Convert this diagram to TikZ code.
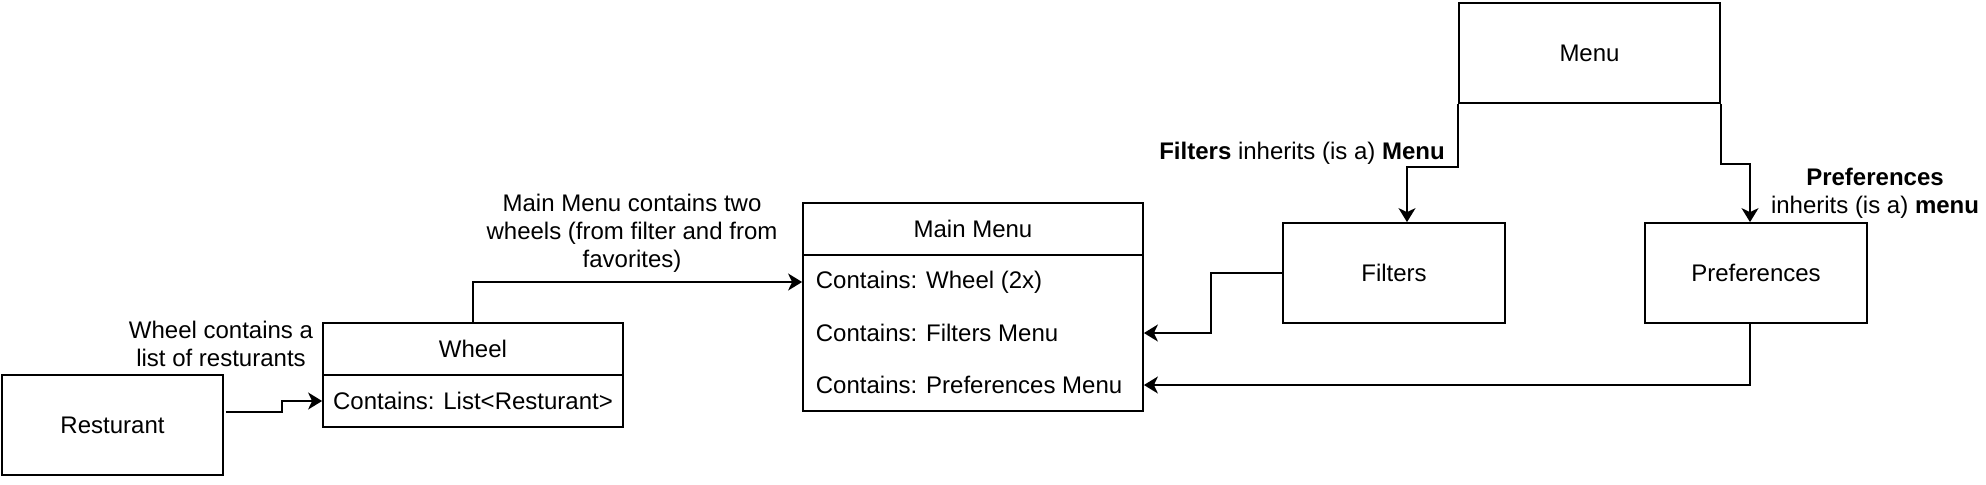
\documentclass[tikz,border=0pt]{standalone}
\usepackage{fontspec}
\setmainfont{Liberation Sans}
\usetikzlibrary{arrows.meta}

\begin{document}
\begin{tikzpicture}[x=0.5pt, y=-0.5pt, line width=0.9pt,
	box/.style={draw, rectangle, inner sep=0pt, font=\fontsize{12}{14}\selectfont},
	arr/.style={-{Stealth[length=7pt, width=8.5pt, inset=2pt]}},
	lbl/.style={align=center, inner sep=0pt, font=\fontsize{12}{14}\selectfont}]
	\useasboundingbox (0, 0) rectangle (1986, 484);

	\node[box, minimum width=110.5pt, minimum height=50pt] (Resturant) at (112.5, 425) {Resturant};

	\node[box, minimum width=150pt, minimum height=26pt] (Wheel) at (473, 349) {Wheel};
	\node[box, minimum width=150pt, minimum height=26pt] (WheelBody) at (473, 401) {Contains: List<Resturant>};

	\node[box, minimum width=170pt, minimum height=26pt] (MainMenu) at (973, 229) {Main Menu};
	\node[box, minimum width=170pt, minimum height=78pt] (MainBody) at (973, 333) {};
	\node[lbl, anchor=west] (rowW) at (815, 282) {Contains: Wheel (2x)};
	\node[lbl, anchor=west] (rowF) at (815, 333) {Contains: Filters Menu};
	\node[lbl, anchor=west] (rowP) at (815, 385) {Contains: Preferences Menu};

	\node[box, minimum width=130.5pt, minimum height=50pt] (Menu) at (1589.5, 53) {Menu};
	\node[box, minimum width=111pt, minimum height=50pt] (Filters) at (1394, 273) {Filters};
	\node[box, minimum width=111pt, minimum height=50pt] (Prefs) at (1756, 273) {Preferences};

	\draw[arr] ([shift={(2, -13)}]Resturant.east) -- ++(56, 0) |- (WheelBody.west);
	\draw[arr] (Wheel.north) |- (MainBody.west |- rowW);
	\draw[arr] (Filters.west) -- ++(-71, 0) |- (MainBody.east |- rowF);
	\draw[arr] ([xshift=-3pt]Prefs.south) |- (MainBody.east |- rowP);
	\draw[arr] (Menu.south west) -- ++(0, 63) -| ([xshift=6.5pt]Filters.north);
	\draw[arr] (Menu.south east) -- ++(0, 60) -| ([xshift=-3pt]Prefs.north);

	\node[lbl] (lblWheel) at (221, 344) {Wheel contains a\\list of resturants};
	\node[lbl] (lblMain) at (632, 233) {Main Menu contains two\\wheels (from filter and from\\favorites)};
	\node[lbl] (lblFilters) at (1302, 153) {\textbf{Filters} inherits (is a) \textbf{Menu}};
	\node[lbl] (lblPrefs) at (1875, 193) {\textbf{Preferences}\\inherits (is a) \textbf{menu}};
\end{tikzpicture}
\end{document}
